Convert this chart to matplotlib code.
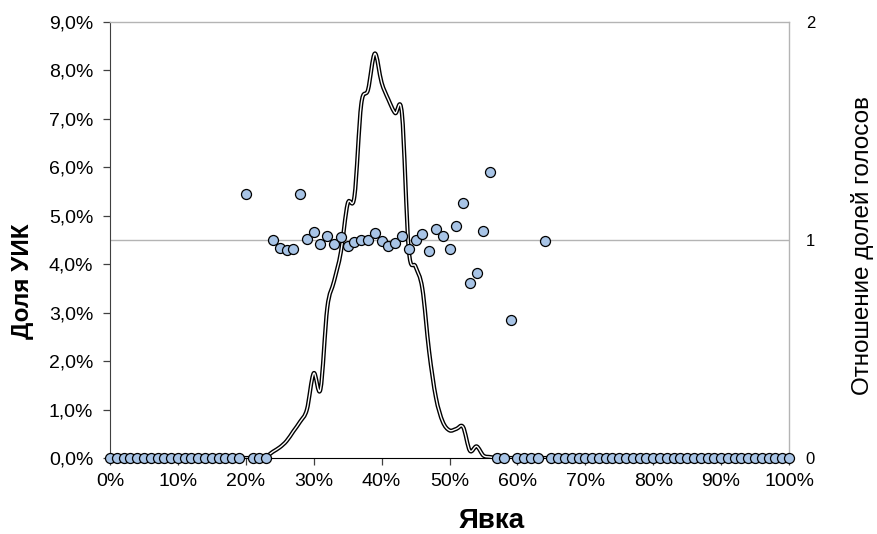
import numpy as np
import matplotlib
matplotlib.use("Agg")
import matplotlib.pyplot as plt
from matplotlib.path import Path
from matplotlib.patches import PathPatch
from matplotlib.ticker import FuncFormatter, MultipleLocator
from matplotlib.transforms import blended_transform_factory

plt.rcParams['font.family'] = ['Liberation Sans', 'DejaVu Sans']

# явка, % (шаг 1%)
turnout = np.arange(0, 101)

# доля УИК с данной явкой, %
uik_share = np.zeros(101)
uik_share[23:57] = [0.03, 0.13, 0.22, 0.35, 0.55, 0.75, 1.0, 1.75, 1.42, 3.1,
                    3.65, 4.25, 5.25, 5.4, 7.3, 7.6, 8.35, 7.75, 7.4, 7.12,
                    7.1, 4.3, 3.95, 3.5, 2.2, 1.25, 0.75, 0.57, 0.6, 0.64,
                    0.15, 0.24, 0.05, 0.02]

# отношение долей голосов
vote_ratio = np.zeros(101)
vote_ratio[20] = 1.21
vote_ratio[24:57] = [1.0, 0.963, 0.954, 0.96, 1.21, 1.003, 1.035, 0.982, 1.017,
                     0.982, 1.014, 0.974, 0.991, 1.001, 0.999, 1.032, 0.995,
                     0.974, 0.988, 1.017, 0.958, 1.0, 1.026, 0.95, 1.05, 1.019,
                     0.959, 1.064, 1.171, 0.803, 0.847, 1.04, 1.311]
vote_ratio[59] = 0.632
vote_ratio[64] = 0.997


def smooth_path(x, y):
    # сглаженная линия как в Excel: кривые Безье по соседним точкам
    pts = np.column_stack([x, y]).astype(float)
    ext = np.vstack([pts[0], pts, pts[-1]])
    verts = [pts[0]]
    codes = [Path.MOVETO]
    for i in range(len(pts) - 1):
        p0, p1, p2, p3 = ext[i], ext[i + 1], ext[i + 2], ext[i + 3]
        verts += [p1 + (p2 - p0) / 6, p2 - (p3 - p1) / 6, p2]
        codes += [Path.CURVE4] * 3
    return Path(verts, codes)


fig = plt.figure(figsize=(8.77, 5.34), dpi=100)
ax = fig.add_axes([110 / 877, 76 / 534, 679 / 877, 436 / 534])
ax2 = ax.twinx()

ax.set_xlim(0, 100)
ax.set_ylim(0, 9)
ax2.set_ylim(0, 2)

# линия отношения = 1
tr = blended_transform_factory(ax.transAxes, ax2.transData)
ax.plot([0, 1], [1, 1], color='#b4b4b4', lw=1.0, transform=tr, zorder=1)

path = smooth_path(turnout, uik_share)
ax.add_patch(PathPatch(path, facecolor='none', edgecolor='black', lw=3.0,
                       zorder=3, capstyle='round', joinstyle='round'))
ax.add_patch(PathPatch(path, facecolor='none', edgecolor='white', lw=1.0,
                       zorder=4, capstyle='round', joinstyle='round'))

ax2.plot(turnout, vote_ratio, linestyle='none', marker='o', markersize=7.2,
         markerfacecolor='#a8c4e6', markeredgecolor='black',
         markeredgewidth=0.9, clip_on=False, zorder=5)

ax.xaxis.set_major_locator(MultipleLocator(10))
ax.yaxis.set_major_locator(MultipleLocator(1))
ax.xaxis.set_major_formatter(FuncFormatter(lambda v, p: f"{v:.0f}%"))
ax.yaxis.set_major_formatter(
    FuncFormatter(lambda v, p: f"{v:.1f}%".replace('.', ',')))
ax2.set_yticks([0, 1, 2])
ax2.set_yticklabels(['0', '1', '2'])

ax.tick_params(axis='y', direction='out', length=5, width=0.9,
               color='#404040', pad=7, labelsize=14)
ax.tick_params(axis='x', direction='out', length=5, width=0.9,
               color='#404040', pad=5.5, labelsize=14)
ax2.tick_params(axis='y', length=0, pad=12, labelsize=12)

for s in ['top', 'right']:
    ax.spines[s].set_color('#b4b4b4')
    ax.spines[s].set_linewidth(1.0)
ax.spines['left'].set_color('#404040')
ax.spines['bottom'].set_color('black')
for s in ax2.spines.values():
    s.set_visible(False)

fig.text(23 / 877, 1 - 281 / 534, 'Доля УИК', rotation=90, ha='center',
         va='center', fontsize=17.5, fontweight='bold')
fig.text(492 / 877, 1 - 521 / 534, 'Явка', ha='center', va='center',
         fontsize=20, fontweight='bold')
fig.text(862 / 877, 1 - 246 / 534, 'Отношение долей голосов', rotation=90,
         ha='center', va='center', fontsize=17.5)

fig.savefig('out.png', dpi=100)
